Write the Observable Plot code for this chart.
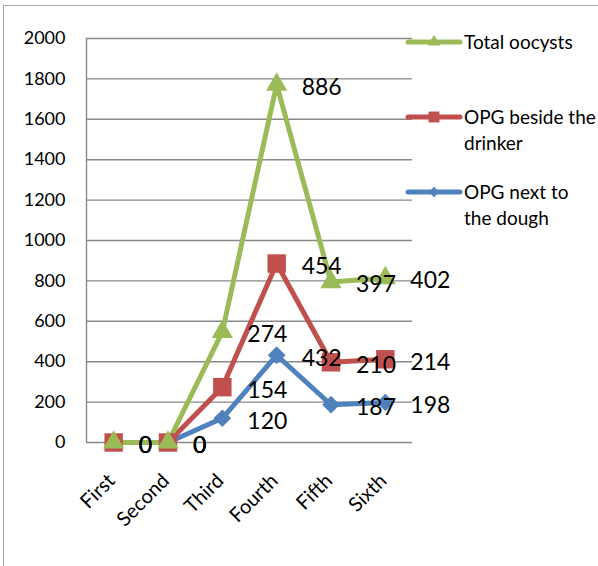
<!DOCTYPE html>
<html>
<head>
<meta charset="utf-8">
<script src="https://cdn.jsdelivr.net/npm/d3@7"></script>
<script src="https://cdn.jsdelivr.net/npm/@observablehq/plot@0.6"></script>
<style>
  body { margin: 0; background: #fff; }
  #wrap { position: relative; width: 598px; height: 566px; overflow: hidden; font-family: Lato, sans-serif; color: #000; }
  #border { position: absolute; left: 3px; top: 5px; width: 640px; height: 640px; border: 1.5px solid #a6a6a6; pointer-events: none; }
  #chart { position: absolute; left: 0; top: 0; }
  .item { position: absolute; left: 405px; display: flex; align-items: flex-start; }
  .item svg { flex: none; }
  .item .lab { font-size: 19px; line-height: 26px; white-space: nowrap; }
</style>
</head>
<body>
<div id="wrap">
  <div id="chart"></div>
  <div id="legend"></div>
  <div id="border"></div>
</div>
<script>
// ---- data ----
const categories = ["First", "Second", "Third", "Fourth", "Fifth", "Sixth"];
// stacking order, bottom to top
const seriesNames = ["OPG next to the dough", "OPG beside the drinker", "Total oocysts"];
const doughValues = [0, 0, 120, 432, 187, 198];
const drinkerValues = [0, 0, 154, 454, 210, 214];
const totalValues = [0, 0, 274, 886, 397, 402];
const yTicks = [0, 200, 400, 600, 800, 1000, 1200, 1400, 1600, 1800, 2000];
const seriesColors = ["#4F81BD", "#C0504D", "#9BBB59"];
// legend (top to bottom), with line breaks as in the original
const legendOrder = ["Total oocysts", "OPG beside the drinker", "OPG next to the dough"];
const legendLines = [["Total oocysts"], ["OPG beside the", "drinker"], ["OPG next to", "the dough"]];

const valuesBySeries = [doughValues, drinkerValues, totalValues];
const rows = seriesNames.flatMap((s, k) => valuesBySeries[k].map((v, i) => ({ i, series: s, value: v })));

// ---- marker shapes ----
const diamondSym = { draw(ctx, size) { const h = Math.sqrt(size) * 0.5; ctx.moveTo(0, -h); ctx.lineTo(h, 0); ctx.lineTo(0, h); ctx.lineTo(-h, 0); ctx.closePath(); } };
const squareSym = { draw(ctx, size) { const s = Math.sqrt(size) * 0.52; ctx.moveTo(-s, -s); ctx.lineTo(s, -s); ctx.lineTo(s, s); ctx.lineTo(-s, s); ctx.closePath(); } };
const triangleSym = { draw(ctx, size) { d3.symbolTriangle.draw(ctx, size * 0.62); } };
const symbols = [diamondSym, squareSym, triangleSym];

const plot = Plot.plot({
  width: 598,
  height: 566,
  marginLeft: 86,
  marginRight: 186,
  marginTop: 38,
  marginBottom: 124,
  style: { fontFamily: "Lato, sans-serif", fontSize: "18px", color: "#000", background: "transparent", overflow: "visible" },
  x: { type: "linear", domain: [-0.5, categories.length - 0.5] },
  y: { domain: [0, 2000] },
  color: { domain: seriesNames, range: seriesColors },
  symbol: { domain: seriesNames, range: symbols },
  marks: [
    Plot.ruleY(yTicks, { stroke: "#898989", strokeWidth: 1.4 }),
    Plot.ruleX([-0.5], { stroke: "#898989", strokeWidth: 1.4 }),
    Plot.axisY({ ticks: yTicks, tickSize: 0, tickPadding: 21, label: null, fontSize: 18, tickFormat: d => String(d) }),
    Plot.axisX({ ticks: d3.range(categories.length), tickFormat: i => categories[i], tickSize: 0, tickRotate: -45, tickPadding: 35, label: null, fontSize: 20, dx: -2 }),
    Plot.lineY(rows, Plot.stackY2({ x: "i", y: "value", z: "series", stroke: "series", strokeWidth: 5, strokeLinejoin: "round", strokeLinecap: "round" })),
    Plot.dot(rows, Plot.stackY2({ x: "i", y: "value", z: "series", fill: "series", symbol: "series", r: 10, stroke: "none" })),
    Plot.text(rows, Plot.stackY2({ x: "i", y: "value", z: "series", text: "value", textAnchor: "start", dx: 25, dy: 3, fontSize: 23, fill: "#000" }))
  ]
});
document.getElementById("chart").appendChild(plot);

// ---- legend ----
const legendTops = [29, 104, 179];
const legend = d3.select("#legend");
legendOrder.forEach((name, j) => {
  const k = seriesNames.indexOf(name);
  const item = legend.append("div").attr("class", "item").style("top", legendTops[j] + "px");
  const svg = item.append("svg").attr("width", 59).attr("height", 26);
  svg.append("line").attr("x1", 3).attr("x2", 55).attr("y1", 13).attr("y2", 13)
    .attr("stroke", seriesColors[k]).attr("stroke-width", 5).attr("stroke-linecap", "round");
  svg.append("path").attr("transform", "translate(29,13)")
    .attr("d", d3.symbol(symbols[k], 110)()).attr("fill", seriesColors[k]);
  const lab = item.append("div").attr("class", "lab");
  legendLines[j].forEach((t, n) => { if (n) lab.append("br"); lab.append("span").text(t); });
});
</script>
</body>
</html>
